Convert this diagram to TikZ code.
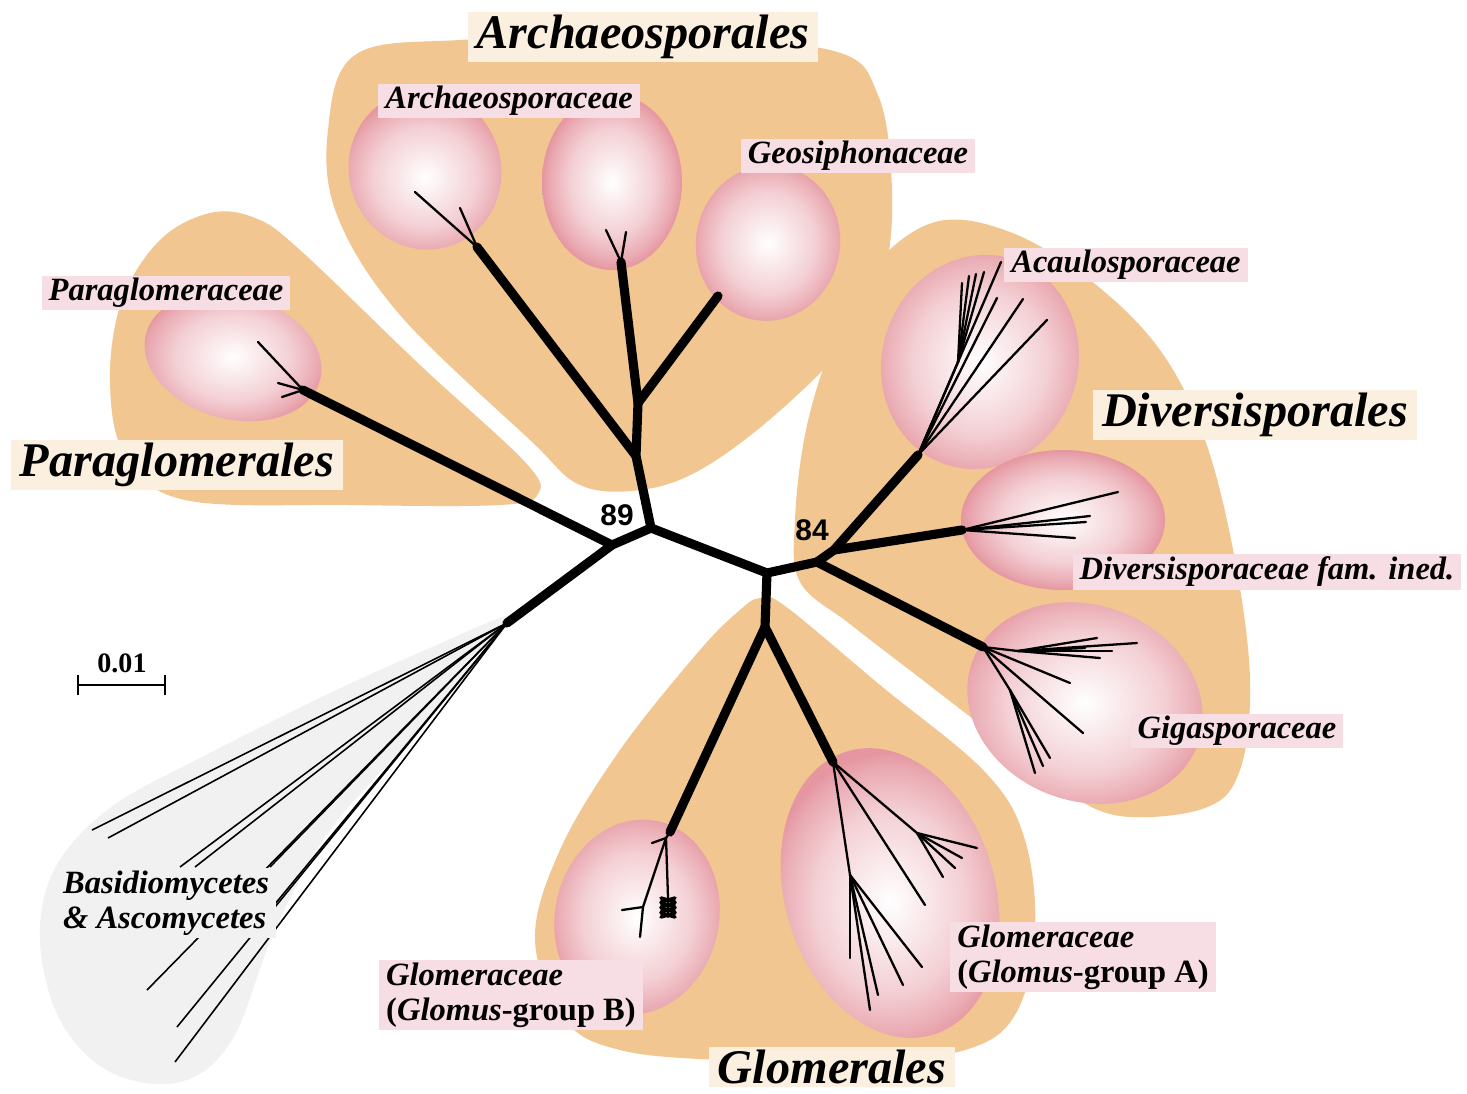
\documentclass[tikz,border=0pt]{standalone}
\usepackage{fontspec}
\setmainfont{Liberation Serif}
\newfontfamily\bootfont{Liberation Sans}
\definecolor{ordertan}{RGB}{241,198,145}
\definecolor{blobpink}{RGB}{229,150,160}
\definecolor{labpink}{RGB}{247,221,228}
\definecolor{labcream}{RGB}{251,239,224}
\definecolor{outgrey}{RGB}{241,241,241}
\pgfdeclareradialshading{blob}{\pgfpoint{0bp}{0bp}}{color(0bp)=(white); color(5bp)=(blobpink!15!white); color(15bp)=(blobpink!45!white); color(22bp)=(blobpink!80!white); color(25bp)=(blobpink); color(50bp)=(blobpink)}

\begin{document}
\begin{tikzpicture}[x=0.02cm, y=-0.02cm,
  trunk/.style={line width=5.2pt, line cap=round, line join=round},
  twig/.style={line width=1.3pt, line cap=round},
  fungus/.style={line width=0.9pt},
  order/.style={fill=labcream, inner xsep=5pt, inner ysep=1.5pt,
    font=\fontsize{27.5}{30}\selectfont\bfseries\itshape},
  family/.style={fill=labpink, inner xsep=4pt, inner ysep=1.5pt, align=left,
    font=\fontsize{18.5}{20}\selectfont\bfseries\itshape},
  boot/.style={font=\bootfont\bfseries\fontsize{17}{17}\selectfont}]
\useasboundingbox (0,0) rectangle (1467,1093);
\fill[white] (0,0) rectangle (1467,1093);

% order areas
\fill[outgrey] plot[smooth cycle, tension=0.6] coordinates {(507,616) (430,648) (330,693) (200,758) (110,808) (55,868) (40,940) (60,1020) (110,1072) (180,1082) (232,1040) (275,930) (330,830) (420,730) (498,638)};
\fill[ordertan] plot[smooth cycle, tension=0.6] coordinates {(210,213) (160,240) (122,300) (110,380) (125,455) (185,500) (350,505) (500,505) (538,494) (525,462) (420,365) (300,250) (255,218)};
\fill[ordertan] plot[smooth cycle, tension=0.6] coordinates {(355,55) (460,40) (650,38) (830,50) (878,95) (892,190) (884,275) (850,340) (775,415) (700,470) (640,490) (580,485) (530,440) (400,315) (337,215) (328,130)};
\fill[ordertan] plot[smooth cycle, tension=0.6] coordinates {(935,222) (1010,232) (1090,280) (1160,350) (1205,440) (1235,560) (1250,680) (1240,770) (1205,808) (1120,816) (1060,788) (1000,740) (920,678) (850,624) (800,582) (795,520) (806,430) (832,345) (870,270)};
\fill[ordertan] plot[smooth cycle, tension=0.6] coordinates {(760,598) (785,606) (880,685) (985,772) (1025,840) (1035,935) (1015,1015) (965,1050) (860,1062) (720,1060) (620,1050) (565,1020) (535,940) (560,850) (620,750) (700,650) (740,610)};

% family clouds
\foreach \cx/\cy/\rx/\ry/\rot in {233/357/90/62/-15, 425/170/76/80/20, 612/182/70/88/0,
    768/243/72/78/-10, 980/362/98/108/-18, 1063/520/102/70/0, 1085/703/120/98/-20,
    637/917/82/98/-12, 890/893/105/148/17}
  \shade[shading=blob, rotate around={\rot:(\cx,\cy)}] (\cx,\cy) ellipse [x radius=\rx, y radius=\ry];

% tree nodes
\coordinate (nA) at (612,545);
\coordinate (nB) at (651,528);
\coordinate (nC) at (767,573);
\coordinate (nD) at (817,562);
\coordinate (nE) at (834,550);
\coordinate (oR) at (507,623);
\coordinate (pT) at (303,390);
\coordinate (aJa) at (636,456);
\coordinate (aJb) at (638,403);
\coordinate (a1T) at (477,247);
\coordinate (a2T) at (621,262);
\coordinate (gsT) at (718,296);
\coordinate (acT) at (918,455);
\coordinate (acF) at (958,362);
\coordinate (dvT) at (962,530);
\coordinate (giT) at (983,647);
\coordinate (giU) at (1018,651);
\coordinate (giL) at (1010,690);
\coordinate (gmJ) at (765,627);
\coordinate (gbT) at (670,832);
\coordinate (gbM) at (666,838);
\coordinate (gbS) at (643,907);
\coordinate (gbF) at (668,897);
\coordinate (gaT) at (833,762);
\coordinate (gaU) at (917,833);
\coordinate (gaL) at (850,875);

% outgroup
\foreach \x/\y [count=\i] in {92/830, 108/838, 180/867, 195/867, 270/867, 270/910, 147/990, 177/1027, 175/1062}
  {\coordinate (oT\i) at (\x,\y); \draw[fungus] (oR) -- (oT\i);}

% backbone
\draw[trunk] (oR) -- (nA) -- (pT);
\draw[trunk] (nA) -- (nB) -- (aJa) -- (aJb) -- (a2T);
\draw[trunk] (aJa) -- (a1T);
\draw[trunk] (aJb) -- (gsT);
\draw[trunk] (nB) -- (nC) -- (nD) -- (nE) -- (acT);
\draw[trunk] (nE) -- (dvT);
\draw[trunk] (nD) -- (giT);
\draw[trunk] (nC) -- (gmJ) -- (gbT);
\draw[trunk] (gmJ) -- (gaT);

% twigs
\foreach \x/\y [count=\i] in {258/342, 278/383, 282/397}
  {\coordinate (pX\i) at (\x,\y); \draw[twig] (pT) -- (pX\i);}
\foreach \x/\y [count=\i] in {415/192, 460/208}
  {\coordinate (a1X\i) at (\x,\y); \draw[twig] (a1T) -- (a1X\i);}
\foreach \x/\y [count=\i] in {606/230, 626/232}
  {\coordinate (a2X\i) at (\x,\y); \draw[twig] (a2T) -- (a2X\i);}
\draw[twig] (acT) -- (acF);
\foreach \x/\y [count=\i] in {962/283, 969/276, 976/274, 984/272}
  {\coordinate (acY\i) at (\x,\y); \draw[twig] (acF) -- (acY\i);}
\foreach \x/\y [count=\i] in {1001/262, 997/298, 1023/299, 1047/320}
  {\coordinate (acX\i) at (\x,\y); \draw[twig] (acT) -- (acX\i);}
\foreach \x/\y [count=\i] in {1118/492, 1090/516, 1086/522, 1075/538}
  {\coordinate (dvX\i) at (\x,\y); \draw[twig] (dvT) -- (dvX\i);}
\draw[twig] (giT) -- (giU);
\draw[twig] (giT) -- (giL);
\foreach \x/\y [count=\i] in {1137/643, 1097/638, 1100/658, 1085/648, 1112/651}
  {\coordinate (giX\i) at (\x,\y); \draw[twig] (giU) -- (giX\i);}
\foreach \x/\y [count=\i] in {1070/683, 1083/733}
  {\coordinate (giY\i) at (\x,\y); \draw[twig] (giT) -- (giY\i);}
\foreach \x/\y [count=\i] in {1050/758, 1035/773, 1043/766}
  {\coordinate (giZ\i) at (\x,\y); \draw[twig] (giL) -- (giZ\i);}
\draw[twig] (gaT) -- (gaU);
\draw[twig] (gaT) -- (gaL);
\foreach \x/\y [count=\i] in {977/848, 955/868, 943/877, 962/858}
  {\coordinate (gaX\i) at (\x,\y); \draw[twig] (gaU) -- (gaX\i);}
\coordinate (gaY) at (925,905);
\draw[twig] (gaT) -- (gaY);
\foreach \x/\y [count=\i] in {850/958, 870/1010, 878/995, 903/985, 922/967}
  {\coordinate (gaZ\i) at (\x,\y); \draw[twig] (gaL) -- (gaZ\i);}
\coordinate (gbX1) at (652,843);
\coordinate (gbX2) at (640,937);
\coordinate (gbX3) at (622,910);
\draw[twig] (gbT) -- (gbM) -- (gbX1);
\draw[twig] (gbM) -- (gbS) -- (gbX2);
\draw[twig] (gbS) -- (gbX3);
\draw[twig] (gbM) -- (gbF) -- ++(0,20);
\foreach \d in {3,8,13,18}
  \draw[twig, line width=2pt] ([yshift=-\d*0.02cm]gbF) ++(-7,-2) -- ++(14,4) ++(0,-4) -- ++(-14,4);

% bootstrap values
\node[boot] (bs89) at (617,515) {89};
\node[boot] (bs84) at (812,530) {84};

% scale
\coordinate (barL) at (78,685);
\coordinate (barR) at (165,685);
\node[font=\fontsize{16}{16}\selectfont\bfseries] (barLab) at (122,663) {0.01};
\draw[line width=1.6pt] (barL) -- (barR);
\draw[line width=1.6pt] (barL) ++(0,-10) -- ++(0,20);
\draw[line width=1.6pt] (barR) ++(0,-10) -- ++(0,20);

% labels
\node[order] (archOrd) at (643,37) {Archaeosporales};
\node[family] (archFam) at (509,101) {Archaeosporaceae};
\node[family] (geoFam) at (858,156) {Geosiphonaceae};
\node[family] (paraFam) at (166,293) {Paraglomeraceae};
\node[order] (paraOrd) at (177,465) {Paraglomerales};
\node[family] (acauFam) at (1126,265) {Acaulosporaceae};
\node[order] (divOrd) at (1255,415) {Diversisporales};
\node[family] (divFam) at (1267,572) {Diversisporaceae fam. ined.};
\node[family] (gigaFam) at (1237,731) {Gigasporaceae};
\node[family] (glomA) at (1083,957) {Glomeraceae\\{\upshape(}Glomus{\upshape-group A)}};
\node[family] (glomB) at (511,995) {Glomeraceae\\{\upshape(}Glomus{\upshape-group B)}};
\node[order] (glomOrd) at (832,1067) {Glomerales};
\node[family, fill=outgrey] (outFam) at (166,903) {Basidiomycetes\\\& Ascomycetes};
\end{tikzpicture}
\end{document}
